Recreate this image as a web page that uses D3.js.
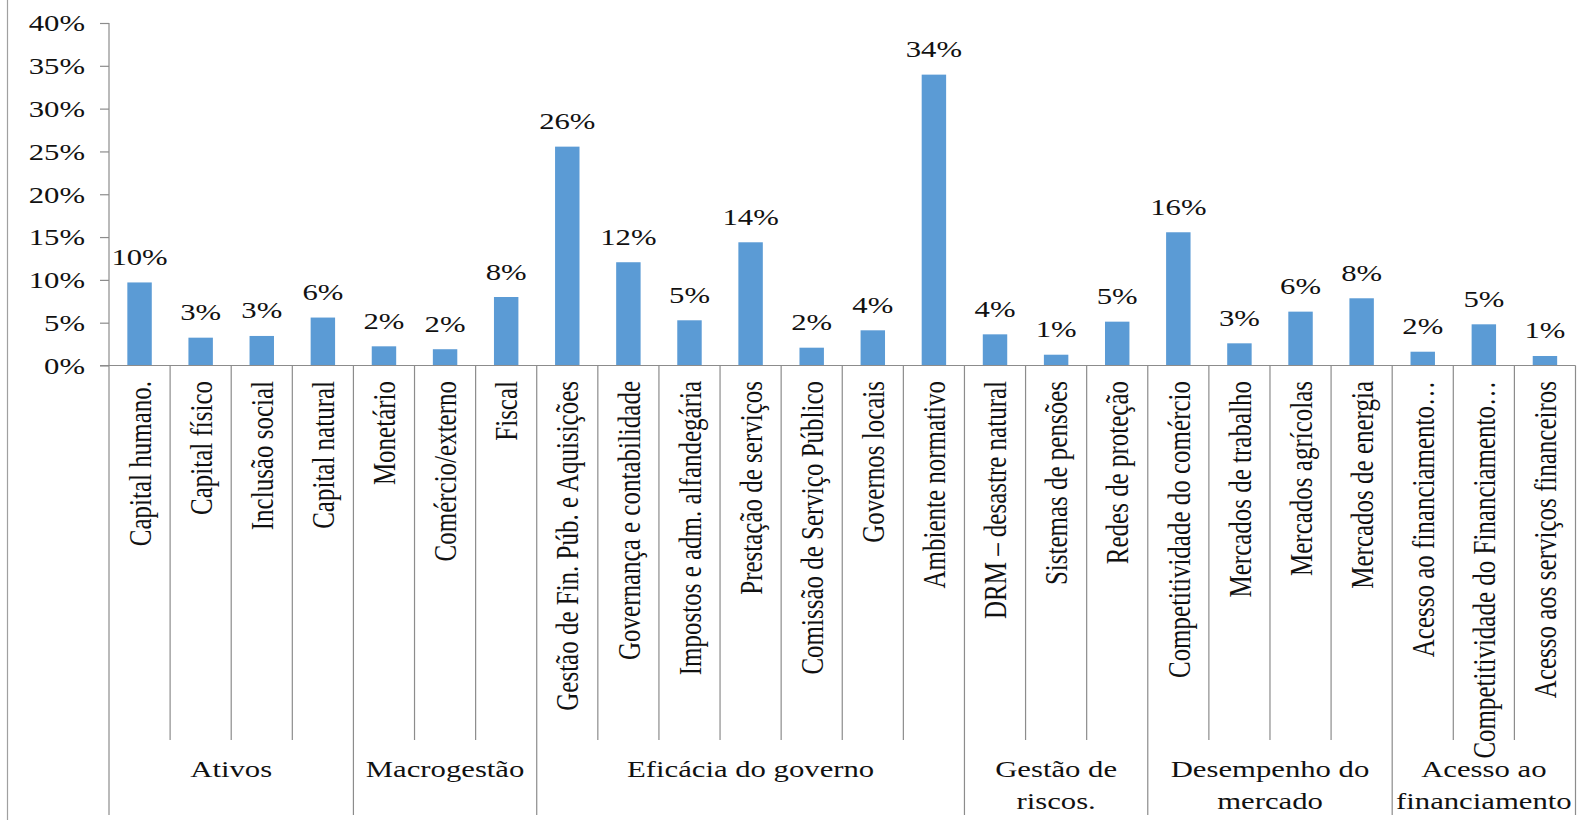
<!DOCTYPE html>
<html>
<head>
<meta charset="utf-8">
<script src="https://cdn.jsdelivr.net/npm/d3@7"></script>
<style>
  html, body { margin: 0; padding: 0; background: #fff; }
  svg { display: block; }
  text { font-family: "Liberation Serif", "Times New Roman", serif; fill: #111; }
</style>
</head>
<body>
<svg id="chart" width="1578" height="820"></svg>
<script>
const categories = [
  "Capital humano.", "Capital físico", "Inclusão social", "Capital natural",
  "Monetário", "Comércio/externo", "Fiscal",
  "Gestão de Fin. Púb. e Aquisições", "Governança e contabilidade", "Impostos e adm. alfandegária",
  "Prestação de serviços", "Comissão de Serviço Público", "Governos locais", "Ambiente normativo",
  "DRM – desastre natural", "Sistemas de pensões", "Redes de proteção",
  "Competitividade do comércio", "Mercados de trabalho", "Mercados agrícolas", "Mercados de energia",
  "Acesso ao financiamento…", "Competitividade do Financiamento…", "Acesso aos serviços financeiros"
];
const values = [
  0.097, 0.0325, 0.0345, 0.056,
  0.0224, 0.019, 0.080,
  0.2556, 0.1206, 0.0528, 0.1439, 0.0208, 0.0411, 0.3397,
  0.0364, 0.0126, 0.0512,
  0.1556, 0.0259, 0.0629, 0.0785,
  0.0161, 0.0481, 0.0111
];
const groupNames = [
  ["Ativos"], ["Macrogestão"], ["Eficácia do governo"],
  ["Gestão de", "riscos."], ["Desempenho do", "mercado"], ["Acesso ao", "financiamento"]
];
const groupSizes = [4, 3, 7, 3, 4, 3];
const yTicks = [0, 0.05, 0.10, 0.15, 0.20, 0.25, 0.30, 0.35, 0.40];

const svg = d3.select("#chart");
const plotLeft = 109, plotRight = 1575.5, plotTop = 23, plotBase = 365.5;
const SX = 1.28;
const lineColor = "#8c8c8c";

const xb = d3.scaleBand().domain(categories).range([plotLeft, plotRight]).padding(0);
const x = d3.scaleBand().domain(categories).range([plotLeft, plotRight]).paddingInner(0.6).paddingOuter(0.3);
const y = d3.scaleLinear().domain([0, 0.40]).range([plotBase, plotTop]);
const pct = d3.format(".0%");

// outer left frame line
svg.append("line").attr("x1", 7.5).attr("x2", 7.5).attr("y1", 0).attr("y2", 820)
  .attr("stroke", "#a0a0a0").attr("stroke-width", 1.2);

// y axis
const yAxis = d3.axisLeft(y).tickValues(yTicks).tickSize(9).tickFormat(() => "");
const gy = svg.append("g").attr("transform", `translate(${plotLeft},0)`).call(yAxis);
gy.select(".domain").remove();
gy.selectAll(".tick line").attr("stroke", lineColor).attr("stroke-width", 1.2);
svg.append("line").attr("x1", plotLeft).attr("x2", plotLeft).attr("y1", plotTop).attr("y2", plotBase)
  .attr("stroke", lineColor).attr("stroke-width", 1.2);
svg.selectAll(".ytl").data(yTicks).join("text").attr("class", "ytl")
  .attr("transform", d => `translate(85,${y(d)}) scale(${SX},1)`)
  .attr("dy", "0.35em").attr("text-anchor", "end").style("font-size", "24px")
  .text(d => pct(d));

// bars
svg.selectAll(".bar").data(values).join("rect").attr("class", "bar")
  .attr("x", (d, i) => x(categories[i]))
  .attr("width", x.bandwidth())
  .attr("y", d => y(d))
  .attr("height", d => plotBase - y(d))
  .attr("fill", "#5b9bd5");

// data labels
svg.selectAll(".dl").data(values).join("text").attr("class", "dl")
  .attr("transform", (d, i) => `translate(${x(categories[i]) + x.bandwidth() / 2},${y(d) - 17.5}) scale(${SX},1)`)
  .attr("text-anchor", "middle").style("font-size", "24px")
  .text(d => pct(d));

// x axis baseline
svg.append("line").attr("x1", plotLeft - 9).attr("x2", plotRight).attr("y1", plotBase).attr("y2", plotBase)
  .attr("stroke", lineColor).attr("stroke-width", 1.2);

// group boundaries
const boundaries = [0];
groupSizes.reduce((acc, s) => { boundaries.push(acc + s); return acc + s; }, 0);
const step = xb.step();
const bx = i => plotLeft + i * step;

// inner category separators
const inner = d3.range(1, categories.length).filter(i => !boundaries.includes(i));
svg.selectAll(".sep").data(inner).join("line").attr("class", "sep")
  .attr("x1", i => bx(i)).attr("x2", i => bx(i)).attr("y1", plotBase).attr("y2", 740)
  .attr("stroke", lineColor).attr("stroke-width", 1.2);
svg.selectAll(".gsep").data(boundaries).join("line").attr("class", "gsep")
  .attr("x1", i => bx(i)).attr("x2", i => bx(i)).attr("y1", plotBase).attr("y2", 815)
  .attr("stroke", lineColor).attr("stroke-width", 1.2);

// rotated category labels
svg.selectAll(".cl").data(categories).join("text").attr("class", "cl")
  .attr("transform", d => `translate(${xb(d) + step / 2},381) scale(${SX},1) rotate(-90)`)
  .attr("text-anchor", "end").attr("dy", "0.35em").style("font-size", "25px")
  .text(d => d);

// group labels
const groups = groupNames.map((n, i) => ({ name: n, start: boundaries[i], end: boundaries[i + 1] }));
const gl = svg.selectAll(".gl").data(groups).join("text").attr("class", "gl")
  .attr("transform", g => `translate(${(bx(g.start) + bx(g.end)) / 2},777) scale(${SX},1)`)
  .attr("text-anchor", "middle").style("font-size", "24px");
gl.selectAll("tspan").data(g => g.name).join("tspan")
  .attr("x", 0).attr("dy", (d, i) => i === 0 ? 0 : 32).text(d => d);
</script>
</body>
</html>
